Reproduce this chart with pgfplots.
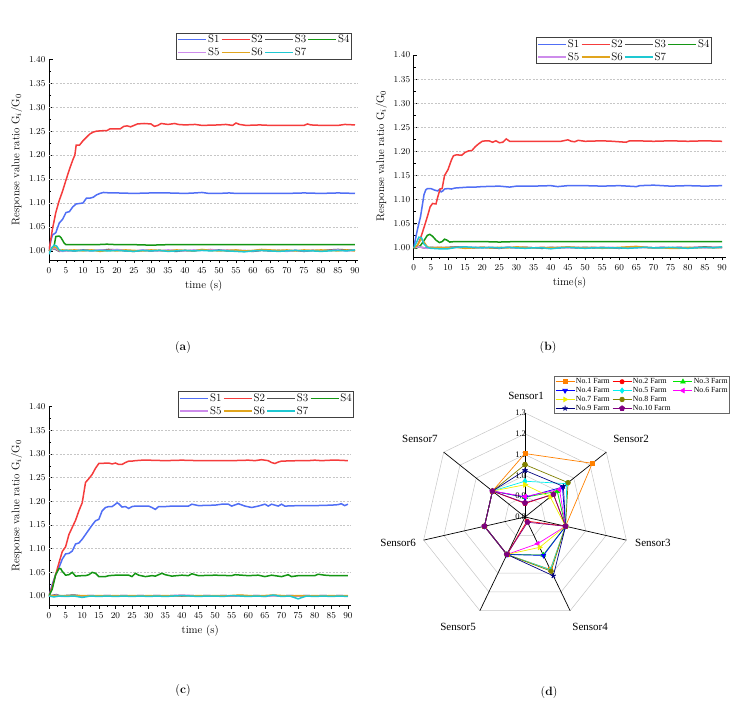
\documentclass[border=0pt]{standalone}
\usepackage{pgfplots}
\usepackage{pgfplotstable}
\pgfplotsset{compat=1.18}
\usepackage{fontspec}
\newfontfamily\timesfont{Liberation Serif}
\usetikzlibrary{plotmarks}

\definecolor{cS1}{RGB}{80,110,245}
\definecolor{cS2}{RGB}{245,60,60}
\definecolor{cS3}{RGB}{80,80,80}
\definecolor{cS4}{RGB}{20,150,20}
\definecolor{cS5}{RGB}{205,140,235}
\definecolor{cS6}{RGB}{225,165,30}
\definecolor{cS7}{RGB}{30,200,210}

\definecolor{f1c}{RGB}{255,128,0}
\definecolor{f2c}{RGB}{255,0,0}
\definecolor{f3c}{RGB}{0,230,0}
\definecolor{f4c}{RGB}{0,0,255}
\definecolor{f5c}{RGB}{0,240,240}
\definecolor{f6c}{RGB}{255,0,255}
\definecolor{f7c}{RGB}{240,240,0}
\definecolor{f8c}{RGB}{128,128,0}
\definecolor{f9c}{RGB}{0,0,128}
\definecolor{f10c}{RGB}{128,0,128}

\pgfplotstableread{
t     s3     s5     s6     s7
0     1.000  1.000  1.000  0.993
0.75  1.003  1.002  1.004  1.006
1.5   1.005  1.007  1.009  1.012
2.25  1.002  1.003  1.006  1.010
3     0.999  1.000  1.001  1.002
4     1.000  0.999  1.002  1.000
5     1.001  1.000  1.001  1.001
7.5   1.000  1.001  1.002  1.000
10    1.002  1.001  1.000  1.001
12.5  1.001  1.000  1.002  1.000
15    1.001  1.002  0.999  1.001
17.5  1.003  1.001  1.001  1.000
20    1.002  1.003  1.000  1.001
22.5  1.000  1.001  1.002  1.000
25    0.999  1.000  1.001  0.999
27.5  1.001  1.002  1.000  1.001
30    1.000  1.001  1.002  1.000
32.5  1.001  1.000  1.001  1.001
35    1.000  1.002  1.000  0.999
37.5  0.999  1.001  1.002  1.000
40    1.001  1.000  1.001  1.001
42.5  1.000  1.002  1.000  1.000
45    1.002  1.001  1.003  1.001
47.5  1.001  1.003  1.001  1.000
50    1.002  1.001  1.000  1.001
52.5  1.000  1.002  1.001  1.000
55    1.001  1.000  1.002  0.999
57.5  1.000  1.001  1.000  0.998
60    0.999  1.000  1.001  1.000
62.5  1.001  1.002  1.003  1.001
65    1.000  1.001  1.002  1.000
67.5  1.001  1.000  1.001  0.999
70    1.000  0.999  1.002  1.000
72.5  1.001  1.001  1.000  1.001
75    0.999  1.000  1.002  1.000
77.5  1.001  1.001  1.001  1.000
80    1.000  1.000  1.002  0.999
82.5  1.002  1.001  1.001  1.000
85    1.003  1.002  1.000  1.001
87.5  1.002  1.000  1.002  1.000
90    1.001  1.001  1.000  1.002
}\noiseA

\pgfplotstableread{
t     s3     s5     s6     s7
0     1.000  1.000  1.000  1.000
0.75  1.001  1.001  1.003  1.010
1.5   1.002  1.002  1.010  1.022
2.25  1.001  1.001  1.019  1.021
3     1.000  1.000  1.012  1.008
4     1.000  0.999  1.002  1.001
5     1.001  1.000  1.000  0.999
7.5   1.000  1.001  1.001  0.998
10    1.001  1.000  1.000  0.998
12.5  1.002  1.001  1.001  1.001
15    1.001  1.000  0.999  1.002
17.5  1.000  1.001  1.000  1.001
20    1.001  1.000  1.001  1.000
22.5  1.000  1.001  1.000  1.001
25    0.999  1.000  1.001  1.000
27.5  1.001  1.001  1.000  1.001
30    1.000  1.000  1.002  1.000
32.5  1.001  1.001  1.001  0.999
35    1.000  1.000  1.000  1.000
37.5  0.999  1.001  1.001  1.000
40    1.001  1.000  1.000  0.998
42.5  1.000  1.001  1.001  1.000
45    1.001  1.000  1.002  1.001
47.5  1.000  1.001  1.001  1.000
50    1.001  1.000  1.000  0.999
52.5  1.000  1.001  1.001  1.000
55    1.001  1.000  0.999  1.000
57.5  1.000  1.001  1.000  1.000
60    0.999  1.000  1.001  1.000
62.5  1.001  1.001  1.002  0.999
65    1.002  1.000  1.003  1.000
67.5  1.001  1.001  1.001  1.001
70    1.000  1.000  1.000  1.000
72.5  1.001  1.001  1.000  1.000
75    1.000  1.000  0.999  1.001
77.5  1.001  1.001  0.999  1.000
80    1.000  1.000  1.001  0.999
82.5  1.001  1.001  1.000  1.000
85    1.002  1.000  1.001  1.001
87.5  1.001  1.001  1.000  1.000
90    1.001  1.000  1.001  1.002
}\noiseB

\pgfplotstableread{
t     s3     s5     s6     s7
0     1.000  1.000  1.000  1.000
0.75  1.001  1.000  1.001  0.999
1.5   1.002  1.001  1.000  0.998
2.25  1.003  1.002  1.001  0.999
3     1.001  1.000  1.000  1.000
4     1.000  0.999  1.001  1.000
5     1.001  1.000  1.000  0.999
7.5   1.002  1.001  1.001  1.000
10    1.000  1.000  1.001  0.997
12.5  1.001  1.001  1.000  1.000
15    1.000  1.000  1.001  0.999
17.5  1.001  1.001  1.000  1.000
20    1.000  1.000  1.001  0.999
22.5  1.001  1.001  1.000  1.000
25    1.000  1.000  1.001  0.999
27.5  1.001  1.001  1.000  1.000
30    1.000  1.000  1.001  0.999
32.5  1.001  1.001  1.000  1.000
35    1.000  1.000  1.001  0.999
37.5  1.001  1.001  1.000  1.000
40    1.000  1.002  1.001  1.001
42.5  1.001  1.001  1.000  1.000
45    1.000  1.000  1.001  0.999
47.5  1.001  1.001  1.000  1.000
50    1.000  1.000  1.001  1.000
52.5  1.001  1.001  1.000  0.999
55    1.000  1.000  1.001  1.001
57.5  1.001  1.001  1.002  1.000
60    1.000  1.000  1.001  0.999
62.5  1.001  1.001  1.000  1.000
65    1.000  0.999  1.001  0.999
67.5  1.001  1.001  1.002  1.002
70    1.000  1.000  1.001  0.999
72.5  1.001  1.001  1.000  1.000
75    1.000  1.000  1.001  0.994
77.5  1.001  1.001  1.000  1.000
80    1.000  1.000  1.001  0.999
82.5  1.001  1.001  1.000  1.000
85    1.000  1.000  1.001  0.999
87.5  1.001  1.001  1.000  1.000
90    1.000  1.000  1.001  0.999
}\noiseC

% radar data: angle (deg), values per farm
\pgfplotstableread{
a        f1     f2     f3     f4     f5     f6     f7     f8     f9     f10
90       1.105  0.865  0.895  0.895  0.972  0.898  0.955  1.052  1.024  0.868
38.571   1.214  0.975  0.998  1.030  1.057  1.012  0.955  1.065  1.036  0.975
-12.857  1.000  1.000  1.000  1.000  1.000  1.000  1.000  1.000  1.000  1.000
-64.286  1.080  0.822  1.003  1.005  1.082  0.942  0.962  1.089  1.114  0.828
-115.714 1.000  1.000  1.000  1.000  1.000  1.000  1.000  1.000  1.000  1.000
-167.143 1.000  1.000  1.000  1.000  1.000  1.000  1.000  1.000  1.000  1.000
-218.571 1.000  1.000  1.000  1.000  1.000  1.000  1.000  1.000  1.000  1.000
-270     1.105  0.865  0.895  0.895  0.972  0.898  0.955  1.052  1.024  0.868
}\farms

\pgfplotsset{
  lineax/.style={
    scale only axis, axis lines=left, axis line style={-, line width=0.8pt},
    xmin=0, xmax=91, ymin=0.981, ymax=1.40,
    xtick={0,5,10,15,20,25,30,35,40,45,50,55,60,65,70,75,80,85,90}, minor x tick num=1,
    ytick={1.00,1.05,1.10,1.15,1.20,1.25,1.30,1.35,1.40}, minor y tick num=1,
    yticklabel style={/pgf/number format/.cd, fixed, fixed zerofill, precision=2},
    xtick align=outside, ytick align=inside,
    tick style={black, line width=0.6pt}, major tick length=3.5pt, minor tick length=2pt,
    extra y ticks={1.05,1.10,1.15,1.20,1.25,1.30,1.35}, extra y tick labels={},
    extra y tick style={grid=major, major tick length=0pt, minor tick length=0pt},
    grid style={gray!45, dash pattern=on 2pt off 1.5pt, line width=0.4pt},
    tick label style={font=\fontsize{9.3}{10}\selectfont},
    xticklabel style={yshift=-1pt},
    label style={font=\fontsize{11}{12}\selectfont},
    ylabel={Response value ratio G$_i$/G$_0$},
    legend columns=4,
    legend cell align=left,
    legend style={draw=black!75, line width=0.6pt, font=\fontsize{11}{11}\selectfont,
      inner sep=1pt, row sep=1.5pt, nodes={inner sep=1pt},
      /tikz/every even column/.append style={column sep=0.5pt}},
    legend image code/.code={\draw[mark repeat=2,mark phase=2,#1] plot coordinates {(0pt,0pt) (14pt,0pt) (28pt,0pt)};},
    every axis plot/.append style={line width=1.5pt, no markers},
  }
}

\begin{document}
\begin{tikzpicture}

% ---------------- (a) ----------------
\begin{axis}[lineax, at={(49pt,453pt)}, anchor=south west, width=309.4pt, height=200.7pt,
  xlabel={time (s)},
  legend style={at={(0.979,1.0)}, anchor=south east}]
\addplot[cS1] coordinates {(0,1.000) (0.5,1.020) (1,1.033) (2,1.038) (3,1.058) (4,1.066) (5,1.080) (6,1.082) (7,1.092) (8,1.098) (9,1.099) (10,1.100) (11,1.110) (12,1.110) (13,1.112) (14,1.117) (15,1.120) (16,1.122) (18,1.121) (20,1.121) (25,1.120) (30,1.121) (35,1.121) (40,1.120) (43,1.121) (45,1.122) (47,1.120) (50,1.120) (53,1.121) (55,1.120) (60,1.120) (65,1.120) (70,1.120) (75,1.121) (80,1.120) (85,1.121) (90,1.120)};
\addplot[cS2] coordinates {(0,1.000) (1,1.045) (2,1.080) (3,1.105) (4,1.125) (5,1.148) (6,1.170) (7,1.190) (7.6,1.200) (8,1.221) (9,1.221) (10,1.230) (11,1.237) (12,1.244) (13,1.248) (14,1.250) (16,1.251) (17,1.251) (18,1.255) (20,1.255) (21,1.255) (22,1.260) (23,1.261) (24,1.259) (25,1.262) (26,1.265) (28,1.266) (30,1.265) (31,1.260) (32,1.262) (33,1.266) (34,1.265) (35,1.264) (37,1.266) (38,1.264) (40,1.263) (43,1.264) (45,1.262) (50,1.263) (52,1.264) (54,1.262) (55,1.267) (56,1.264) (58,1.262) (62,1.263) (65,1.262) (70,1.262) (75,1.262) (76,1.265) (77,1.263) (80,1.262) (85,1.262) (87,1.264) (90,1.263)};
\addplot[cS3] table[x=t,y=s3] {\noiseA};
\addplot[cS4] coordinates {(0,1.000) (1,1.003) (1.5,1.010) (2,1.030) (3,1.031) (3.5,1.028) (4,1.022) (4.5,1.016) (5,1.013) (6,1.013) (10,1.013) (14,1.013) (17,1.014) (20,1.013) (25,1.013) (30,1.012) (35,1.013) (40,1.013) (45,1.013) (50,1.013) (55,1.013) (60,1.013) (65,1.013) (70,1.013) (75,1.013) (80,1.013) (85,1.013) (90,1.013)};
\addplot[cS5] table[x=t,y=s5] {\noiseA};
\addplot[cS6] table[x=t,y=s6] {\noiseA};
\addplot[cS7] table[x=t,y=s7] {\noiseA};
\legend{S1,S2,S3,S4,S5,S6,S7}
\end{axis}

% ---------------- (b) ----------------
\begin{axis}[lineax, at={(413.7pt,456pt)}, anchor=south west, width=311.8pt, height=202pt,
  xlabel={time(s)},
  legend style={at={(0.956,0.955)}, anchor=south east}]
\addplot[cS1] coordinates {(0,1.000) (1,1.035) (2,1.065) (3,1.110) (3.5,1.120) (4,1.123) (5,1.123) (6,1.120) (7,1.118) (7.5,1.121) (8,1.116) (8.5,1.118) (9,1.122) (10,1.123) (11,1.122) (12,1.124) (14,1.125) (16,1.126) (18,1.126) (20,1.127) (25,1.128) (28,1.126) (30,1.128) (35,1.128) (40,1.129) (42,1.127) (45,1.129) (50,1.129) (55,1.128) (60,1.129) (65,1.127) (66,1.129) (70,1.130) (75,1.128) (80,1.129) (85,1.128) (90,1.129)};
\addplot[cS2] coordinates {(0,1.000) (1,1.003) (2,1.020) (3,1.042) (4,1.065) (4.8,1.085) (5.5,1.092) (6.5,1.091) (7,1.105) (7.7,1.122) (8.3,1.123) (9,1.150) (10,1.162) (11,1.182) (11.6,1.191) (12.5,1.193) (14,1.192) (15,1.198) (16,1.201) (17,1.202) (18,1.210) (19,1.216) (20,1.221) (21,1.222) (22,1.222) (23,1.219) (24,1.222) (25,1.218) (26,1.219) (27,1.226) (28,1.221) (30,1.221) (35,1.221) (40,1.221) (43,1.221) (45,1.224) (46,1.221) (47,1.220) (48,1.223) (50,1.221) (55,1.222) (58,1.221) (60,1.220) (62,1.219) (63,1.222) (65,1.222) (70,1.221) (75,1.222) (80,1.221) (85,1.222) (90,1.221)};
\addplot[cS3] table[x=t,y=s3] {\noiseB};
\addplot[cS4] coordinates {(0,1.000) (1,1.000) (2,1.005) (3,1.015) (4,1.026) (4.7,1.028) (5.5,1.024) (6.5,1.016) (7.5,1.011) (8.3,1.013) (9,1.018) (9.7,1.016) (10.5,1.012) (12,1.013) (15,1.013) (20,1.013) (25,1.012) (30,1.013) (40,1.013) (50,1.013) (60,1.013) (70,1.013) (80,1.013) (90,1.013)};
\addplot[cS5] table[x=t,y=s5] {\noiseB};
\addplot[cS6] table[x=t,y=s6] {\noiseB};
\addplot[cS7] table[x=t,y=s7] {\noiseB};
\legend{S1,S2,S3,S4,S5,S6,S7}
\end{axis}

% ---------------- (c) ----------------
\begin{axis}[lineax, at={(49pt,108pt)}, anchor=south west, width=302.3pt, height=198.3pt,
  xlabel={time (s)},
  legend style={at={(1.009,0.943)}, anchor=south east}]
\addplot[cS1] coordinates {(0,1.000) (1,1.025) (2,1.045) (3,1.060) (4,1.078) (5,1.089) (6,1.090) (7,1.095) (8,1.110) (9,1.112) (10,1.120) (11,1.130) (12,1.140) (13,1.150) (14,1.159) (15,1.162) (16,1.180) (17,1.187) (18,1.189) (19,1.189) (20,1.194) (20.5,1.197) (21,1.195) (22,1.188) (23,1.189) (24,1.185) (25,1.189) (26,1.190) (28,1.190) (30,1.190) (31,1.187) (32,1.183) (33,1.189) (35,1.189) (37,1.190) (40,1.190) (42,1.190) (43,1.194) (45,1.191) (50,1.192) (52,1.194) (54,1.194) (55,1.190) (57,1.195) (59,1.190) (61,1.187) (63,1.190) (65,1.194) (66,1.190) (67,1.194) (69,1.190) (70,1.194) (71,1.190) (75,1.191) (80,1.191) (85,1.192) (87,1.193) (88,1.195) (89,1.191) (90,1.194)};
\addplot[cS2] coordinates {(0,1.000) (1,1.020) (2,1.045) (3,1.070) (4,1.094) (5,1.104) (6,1.130) (7,1.145) (8,1.160) (9,1.180) (10,1.197) (11,1.240) (12,1.248) (13,1.257) (14,1.270) (15,1.280) (16,1.280) (17,1.281) (18,1.281) (19,1.279) (20,1.281) (21,1.278) (22,1.278) (23,1.282) (24,1.285) (25,1.285) (26,1.286) (28,1.287) (30,1.287) (35,1.286) (40,1.287) (45,1.286) (50,1.286) (55,1.286) (60,1.287) (62,1.286) (64,1.288) (66,1.286) (67,1.282) (68,1.280) (69,1.283) (70,1.285) (75,1.286) (78,1.286) (80,1.287) (82,1.286) (85,1.287) (87,1.287) (90,1.286)};
\addplot[cS3] table[x=t,y=s3] {\noiseC};
\addplot[cS4] coordinates {(0,1.000) (1,1.015) (2,1.045) (3,1.058) (3.5,1.058) (4,1.052) (5,1.044) (6,1.045) (7,1.050) (8,1.042) (10,1.043) (11,1.043) (12,1.045) (13,1.050) (14,1.048) (15,1.041) (17,1.041) (18,1.043) (20,1.044) (22,1.044) (24,1.044) (25,1.041) (26,1.048) (27,1.044) (29,1.041) (31,1.043) (32,1.042) (34,1.048) (35,1.045) (37,1.042) (40,1.044) (42,1.043) (43,1.047) (45,1.043) (50,1.044) (55,1.043) (56,1.045) (60,1.043) (63,1.044) (65,1.041) (67,1.044) (70,1.041) (72,1.045) (73,1.041) (75,1.043) (80,1.043) (81,1.046) (83,1.044) (85,1.043) (90,1.043)};
\addplot[cS5] table[x=t,y=s5] {\noiseC};
\addplot[cS6] table[x=t,y=s6] {\noiseC};
\addplot[cS7] table[x=t,y=s7] {\noiseC};
\legend{S1,S2,S3,S4,S5,S6,S7}
\end{axis}

% ---------------- (d) radar ----------------
\begin{axis}[at={(525pt,196pt)}, anchor=center, scale only axis,
  width=249.6pt, height=249.6pt, xmin=-0.6, xmax=0.6, ymin=-0.6, ymax=0.6,
  hide axis, clip=false, data cs=polar,
  legend columns=3, legend cell align=left,
  legend style={at={(1.321,0.9127)}, anchor=south east, draw=black!60, line width=0.6pt,
    font=\timesfont\fontsize{7.8}{8}\selectfont, inner sep=1pt, row sep=0.2pt,
    nodes={inner sep=1pt},
    /tikz/every even column/.append style={column sep=1.5pt}},
  legend image code/.code={\draw[mark repeat=2,mark phase=2,#1] plot coordinates {(0pt,0pt) (9.5pt,0pt) (19pt,0pt)};},
  ]
% rings
\addplot[gray!45, line width=0.5pt, forget plot] table[x=a, y expr=0.1] {\farms};
\addplot[gray!45, line width=0.5pt, forget plot] table[x=a, y expr=0.2] {\farms};
\addplot[gray!45, line width=0.5pt, forget plot] table[x=a, y expr=0.3] {\farms};
\addplot[gray!45, line width=0.5pt, forget plot] table[x=a, y expr=0.4] {\farms};
\addplot[gray!45, line width=0.5pt, forget plot] table[x=a, y expr=0.5] {\farms};
% spokes
\addplot[black, line width=0.7pt, forget plot] coordinates {(90,0) (90,0.5)};
\addplot[black, line width=0.7pt, forget plot] coordinates {(38.571,0) (38.571,0.5)};
\addplot[black, line width=0.7pt, forget plot] coordinates {(-12.857,0) (-12.857,0.5)};
\addplot[black, line width=0.7pt, forget plot] coordinates {(-64.286,0) (-64.286,0.5)};
\addplot[black, line width=0.7pt, forget plot] coordinates {(-115.714,0) (-115.714,0.5)};
\addplot[black, line width=0.7pt, forget plot] coordinates {(-167.143,0) (-167.143,0.5)};
\addplot[black, line width=0.7pt, forget plot] coordinates {(-218.571,0) (-218.571,0.5)};
% farms
\addplot[f1c, line width=0.7pt, mark=square*, mark size=2.1pt] table[x=a, y expr=\thisrow{f1}-0.8] {\farms};
\addlegendentry{No.1 Farm}
\addplot[f2c, line width=0.7pt, mark=*, mark size=2.1pt] table[x=a, y expr=\thisrow{f2}-0.8] {\farms};
\addlegendentry{No.2 Farm}
\addplot[f3c, line width=0.7pt, mark=triangle*, mark size=2.6pt] table[x=a, y expr=\thisrow{f3}-0.8] {\farms};
\addlegendentry{No.3 Farm}
\addplot[f4c, line width=0.7pt, mark=triangle*, mark options={rotate=180}, mark size=2.6pt] table[x=a, y expr=\thisrow{f4}-0.8] {\farms};
\addlegendentry{No.4 Farm}
\addplot[f5c, line width=0.7pt, mark=diamond*, mark size=2.6pt] table[x=a, y expr=\thisrow{f5}-0.8] {\farms};
\addlegendentry{No.5 Farm}
\addplot[f6c, line width=0.7pt, mark=triangle*, mark options={rotate=90}, mark size=2.6pt] table[x=a, y expr=\thisrow{f6}-0.8] {\farms};
\addlegendentry{No.6 Farm}
\addplot[f7c, line width=0.7pt, mark=triangle*, mark options={rotate=-90}, mark size=2.6pt] table[x=a, y expr=\thisrow{f7}-0.8] {\farms};
\addlegendentry{No.7 Farm}
\addplot[f8c, line width=0.7pt, mark=*, mark size=2.3pt] table[x=a, y expr=\thisrow{f8}-0.8] {\farms};
\addlegendentry{No.8 Farm}
\addlegendimage{empty legend}
\addlegendentry{}
\addplot[f9c, line width=0.7pt, mark=star, mark options={line width=1pt}, mark size=2.6pt] table[x=a, y expr=\thisrow{f9}-0.8] {\farms};
\addlegendentry{No.9 Farm}
\addplot[f10c, line width=0.7pt, mark=pentagon*, mark size=2.6pt] table[x=a, y expr=\thisrow{f10}-0.8] {\farms};
\addlegendentry{No.10 Farm}
% radial tick labels
\begin{scope}[font=\timesfont\fontsize{8.5}{9}\selectfont]
\node[anchor=east, inner sep=0.5pt] at (axis cs:0.008,0.0) {0.8};
\node[anchor=east, inner sep=0.5pt] at (axis cs:0.008,0.1) {0.9};
\node[anchor=east, inner sep=0.5pt] at (axis cs:0.008,0.2) {1.0};
\node[anchor=east, inner sep=0.5pt] at (axis cs:0.008,0.3) {1.1};
\node[anchor=east, inner sep=0.5pt] at (axis cs:0.008,0.4) {1.2};
\node[anchor=east, inner sep=0.5pt] at (axis cs:0.008,0.5) {1.3};
\end{scope}
\begin{scope}[font=\timesfont\fontsize{11}{12}\selectfont]
\node at (axis cs:0.005,0.582) {Sensor1};
\node at (axis cs:0.51,0.375) {Sensor2};
\node at (axis cs:0.615,-0.125) {Sensor3};
\node at (axis cs:0.313,-0.529) {Sensor4};
\node at (axis cs:-0.322,-0.529) {Sensor5};
\node at (axis cs:-0.61,-0.125) {Sensor6};
\node at (axis cs:-0.505,0.375) {Sensor7};
\end{scope}
\end{axis}

% captions
\node[font=\fontsize{12}{14}\selectfont] at (183pt,365pt) {(\textbf{a})};
\node[font=\fontsize{12}{14}\selectfont] at (548pt,365pt) {(\textbf{b})};
\node[font=\fontsize{12}{14}\selectfont] at (183pt,22pt) {(\textbf{c})};
\node[font=\fontsize{12}{14}\selectfont] at (549pt,20pt) {(\textbf{d})};

\pgfresetboundingbox
\path[use as bounding box] (0pt,0pt) rectangle (742pt,713pt);
\end{tikzpicture}
\end{document}
